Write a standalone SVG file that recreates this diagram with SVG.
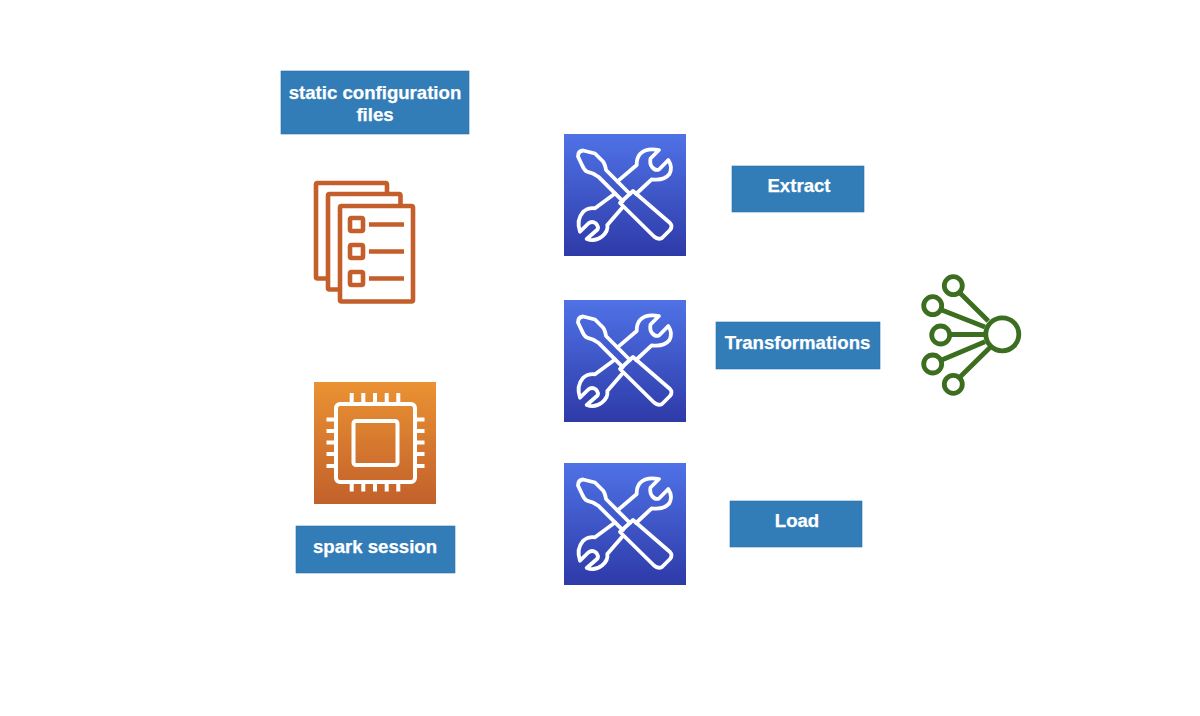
<svg xmlns="http://www.w3.org/2000/svg" xmlns:xlink="http://www.w3.org/1999/xlink" width="1200" height="716" viewBox="0 0 1200 716">
<style>
.box{fill:#327cb8;stroke:#2a6fa8;stroke-width:.6}
.lbl{font-family:"Liberation Sans",Arial,sans-serif;font-weight:700;font-size:18.6px;fill:#fff;stroke:#fff;stroke-width:.25;text-anchor:middle}
.w{fill:none;stroke:#fff;stroke-width:3.800;stroke-linejoin:round;stroke-linecap:round}
.o{fill:none;stroke:#c45f2b;stroke-width:4.600;stroke-linejoin:round}
.g{fill:none;stroke:#3c6e20;stroke-width:4.800}
</style>
<defs>
<linearGradient id="blue" x1="0" y1="1" x2="0" y2="0"><stop offset="0" stop-color="#2e3aa8"/><stop offset="1" stop-color="#4f72e6"/></linearGradient>
<linearGradient id="orange" x1="0" y1="1" x2="0" y2="0"><stop offset="0" stop-color="#c2602b"/><stop offset="1" stop-color="#ea9233"/></linearGradient>
<g id="tool">
<rect x="0" y="0" width="122" height="122" fill="url(#blue)"/>
<g transform="translate(-564,-134)">
<path class="w" d="M633 191L620 203L654 236.500Q658 240 662 238L670 230Q673 226 670 223Z"/>
<path class="w" d="M630 194L606 170Q605 164 603 161.500L595 153.500L583 150.500Q578 151 578 156.500L582 165Q584 170 587 171.700Q593 173 598.300 176.700L622.800 201.200"/>
<path class="w" d="M617.500 181.400L636.700 165Q636.500 158 640 154Q646 147.500 659 150L650.500 158.500Q649.500 164 652 167Q655 171 659 169.500L668.300 160Q673 167 669.500 174Q664 181 651.700 179.300L636 194"/>
<path class="w" d="M615 193.500L595 208.300Q588 207.500 583 212Q576 220 580 231.700L588.300 223.500Q592 220.500 596 223.500Q599 227 597.500 229.500L586.700 239Q595 242 602 236.500Q608.500 231 607.300 225L622 208"/>
</g>
</g>
</defs>
<g id="connectors"/>
<g id="node-config-label"><rect class="box" x="281" y="71" width="188" height="63"/><text class="lbl" x="375" y="98.500">static configuration</text><text class="lbl" x="375" y="120.500">files</text></g>
<g id="node-files">
<path class="o" d="M387 194V184.500Q387 183 385.500 183H317.500Q316 183 316 184.500V277Q316 278.500 317.500 278.500H328"/>
<path class="o" d="M400.500 206V195.500Q400.500 194 399 194H329.500Q328 194 328 195.500V288Q328 289.500 329.500 289.500H340"/>
<rect class="o" x="340" y="206" width="73" height="95.500" rx="1.500"/>
<rect class="o" x="350" y="218" width="13" height="13" rx="1.500"/><rect class="o" x="350" y="245" width="13" height="13" rx="1.500"/><rect class="o" x="350" y="272" width="13" height="13" rx="1.500"/>
<path class="o" d="M369 224.500H404M369 251.500H404M369 278.500H404"/>
</g>
<g id="node-spark-chip">
<rect x="314" y="382" width="122" height="122" fill="url(#orange)"/>
<g fill="none" stroke="#fff" stroke-width="4" stroke-linejoin="round">
<rect x="336" y="404" width="79" height="78" rx="4"/>
<rect x="353.500" y="421" width="44" height="44" rx="2.500"/>
<path d="M351.700 393V404M363.300 393V404M375 393V404M386.700 393V404M398.300 393V404M351.700 482V491.500M363.300 482V491.500M375 482V491.500M386.700 482V491.500M398.300 482V491.500M326.500 419.500H336M326.500 431H336M326.500 442.500H336M326.500 454H336M326.500 466H336M415 419.500H424.500M415 431H424.500M415 442.500H424.500M415 454H424.500M415 466H424.500"/>
</g>
</g>
<g id="node-spark-label"><rect class="box" x="296" y="526" width="159" height="47"/><text class="lbl" x="375" y="553">spark session</text></g>
<use id="node-tool-extract" xlink:href="#tool" href="#tool" x="564" y="134"/>
<use id="node-tool-transform" xlink:href="#tool" href="#tool" x="564" y="300"/>
<use id="node-tool-load" xlink:href="#tool" href="#tool" x="564" y="463"/>
<g id="node-extract"><rect class="box" x="732" y="166" width="132" height="46"/><text class="lbl" x="799" y="192">Extract</text></g>
<g id="node-transformations"><rect class="box" x="716" y="322" width="164" height="47"/><text class="lbl" x="797.500" y="349">Transformations</text></g>
<g id="node-load"><rect class="box" x="730" y="501" width="132" height="46"/><text class="lbl" x="797" y="527">Load</text></g>
<g id="node-network" class="g">
<circle cx="1002.300" cy="334.300" r="16.500"/>
<circle cx="953.300" cy="285.700" r="9"/><circle cx="932.700" cy="305.700" r="9"/><circle cx="940.700" cy="335" r="9"/><circle cx="932.700" cy="364" r="9"/><circle cx="953.300" cy="384.300" r="9"/>
<path d="M960 293L988.300 321M941.700 310L985 327M950 334.500H985M941.700 360L985 341.700M960 377L990 347.500"/>
</g>
</svg>
